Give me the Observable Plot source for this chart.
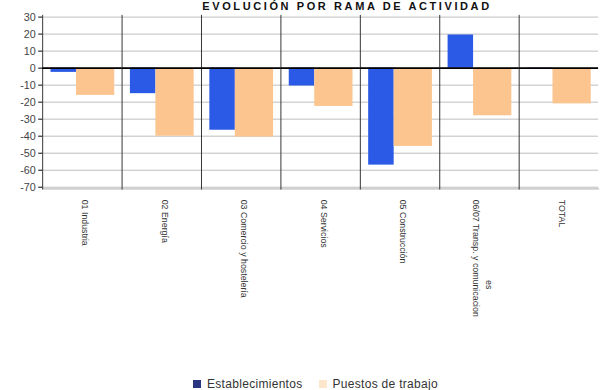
<!DOCTYPE html>
<html>
<head>
<meta charset="utf-8">
<script src="https://cdn.jsdelivr.net/npm/d3@7"></script>
<script src="https://cdn.jsdelivr.net/npm/@observablehq/plot@0.6"></script>
<style>
  html, body { margin: 0; padding: 0; background: #fff; }
  body { width: 603px; height: 390px; overflow: hidden; position: relative; font-family: "Liberation Sans", Arial, sans-serif; }
  #title { position: absolute; top: 0; left: 0; width: 694px; height: 12px; text-align: center; font-weight: bold; font-size: 11px; line-height: 12px; letter-spacing: 2.6px; color: #111; z-index: 2; }
  #chart { position: absolute; top: 10px; left: 0; }
  #legend { position: absolute; top: 377px; left: 193px; font-size: 12px; letter-spacing: 0.3px; color: #333; white-space: nowrap; line-height: 14px; }
  #legend .sw { display: inline-block; width: 8px; height: 8px; margin-right: 6px; vertical-align: 0px; }
  #legend .item { margin-right: 16px; }
</style>
</head>
<body>
<div id="title">EVOLUCIÓN POR RAMA DE ACTIVIDAD</div>
<div id="chart"></div>
<div id="legend"></div>
<script>
const categories = ["01 Industria", "02 Energía", "03 Comercio y hostelería", "04 Servicios", "05 Construcción", "06/07 Transp. y comunicacion", "TOTAL"];
const secondLines = ["", "", "", "", "", "es", ""];
const series = ["Establecimientos", "Puestos de trabajo"];
const establecimientos = [-2.5, -15, -36.5, -10.5, -57, 19.5, -0.5];
const puestos = [-16, -40, -40.5, -22.5, -46, -28, -21];
const yTicks = [30, 20, 10, 0, -10, -20, -30, -40, -50, -60, -70];
const colors = ["#2b5ae6", "#fcc48e"];

const bars = [];
categories.forEach((c, i) => {
  bars.push({cat: c, serie: series[0], value: establecimientos[i]});
  bars.push({cat: c, serie: series[1], value: puestos[i]});
});
const labels = categories.map((c, i) => ({cat: c, l1: c, l2: secondLines[i]}));

const chart = Plot.plot({
  width: 615,
  height: 340,
  marginLeft: 41.5,
  marginRight: 3,
  marginTop: 5,
  marginBottom: 158,
  style: {fontFamily: "Liberation Sans, Arial, sans-serif", background: "transparent", overflow: "visible"},
  fx: {domain: categories, paddingInner: 0, paddingOuter: 0, axis: null, label: null},
  x: {domain: series, paddingInner: 0, paddingOuter: 0.2, axis: null, label: null},
  y: {domain: [-71, 31], axis: null, label: null},
  color: {domain: series, range: colors},
  marks: [
    Plot.gridY(yTicks, {stroke: "#bdbdbd", strokeOpacity: 1}),
    Plot.frame({anchor: "bottom", stroke: "#aaa"}),
    Plot.barY(bars.filter(d => d.serie === series[0]), {fx: "cat", x: "serie", y: "value", fill: "serie", insetLeft: 1, insetRight: 6}),
    Plot.barY(bars.filter(d => d.serie === series[1]), {fx: "cat", x: "serie", y: "value", fill: "serie", insetLeft: -6, insetRight: 0}),
    Plot.frame({anchor: "left", stroke: "#333"}),
    Plot.ruleY([0], {stroke: "#000", strokeWidth: 2}),
    Plot.axisY(yTicks, {label: null, tickSize: 4, tickPadding: 3, fontSize: 11, stroke: "#000", fill: "#444", tickFormat: d => d}),
    Plot.text(labels.filter(d => !d.l2), {fx: "cat", text: "l1", frameAnchor: "bottom", rotate: 90, textAnchor: "start", dy: 11, fontSize: 9, fill: "#333"}),
    Plot.text(labels.filter(d => d.l2), {fx: "cat", text: "l1", frameAnchor: "bottom", rotate: 90, textAnchor: "start", dy: 11, dx: -7, fontSize: 9, fill: "#333"}),
    Plot.text(labels.filter(d => d.l2), {fx: "cat", text: "l2", frameAnchor: "bottom", rotate: 90, textAnchor: "start", dy: 93, dx: 7, fontSize: 9, fill: "#333"})
  ]
});
document.getElementById("chart").appendChild(chart);

const legend = document.getElementById("legend");
const legendColors = ["#2b3580", "#fde6cc"];
series.forEach((s, i) => {
  const item = document.createElement("span");
  item.className = "item";
  const sw = document.createElement("span");
  sw.className = "sw";
  sw.style.background = legendColors[i];
  item.appendChild(sw);
  item.appendChild(document.createTextNode(s));
  legend.appendChild(item);
});
</script>
</body>
</html>
